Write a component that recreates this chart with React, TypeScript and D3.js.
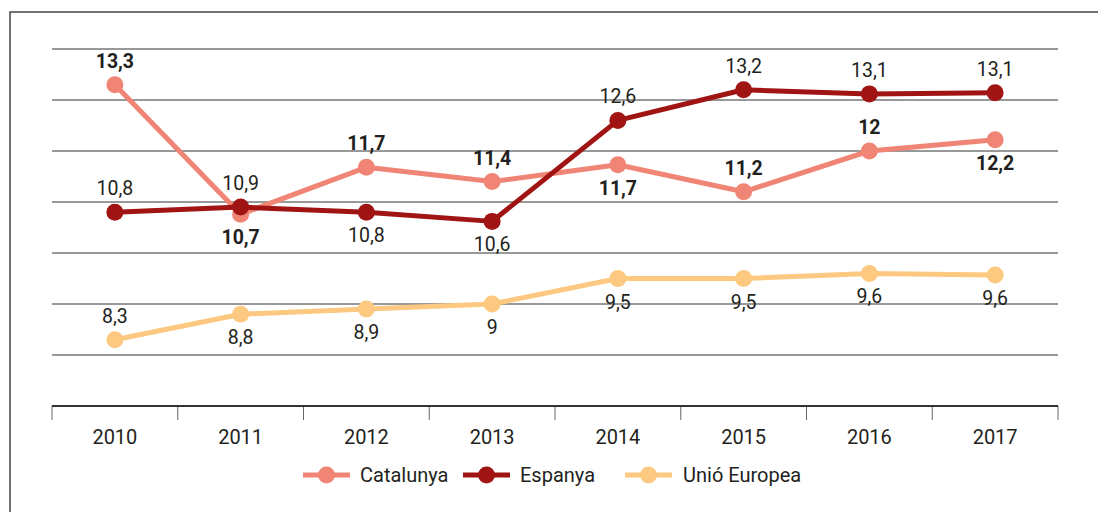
import React from "react";
import * as d3 from "d3";

const years = ["2010", "2011", "2012", "2013", "2014", "2015", "2016", "2017"];
const catalunya = [13.3, 10.76, 11.68, 11.4, 11.73, 11.2, 12.0, 12.22];
const catalunyaLabels = ["13,3", "10,7", "11,7", "11,4", "11,7", "11,2", "12", "12,2"];
const catalunyaPos = ["a", "b", "a", "a", "b", "a", "a", "b"];
const espanya = [10.8, 10.9, 10.8, 10.62, 12.6, 13.2, 13.12, 13.14];
const espanyaLabels = ["10,8", "10,9", "10,8", "10,6", "12,6", "13,2", "13,1", "13,1"];
const espanyaPos = ["a", "a", "b", "b", "a", "a", "a", "a"];
const ue = [8.3, 8.8, 8.9, 9.0, 9.5, 9.5, 9.6, 9.57];
const ueLabels = ["8,3", "8,8", "8,9", "9", "9,5", "9,5", "9,6", "9,6"];
const uePos = ["a", "b", "b", "b", "b", "b", "b", "b"];
const gridTicks = [8, 9, 10, 11, 12, 13, 14];

const FONT = "Roboto, 'DejaVu Sans', sans-serif";
const TEXT = "#231f20";

const series = [
  { name: "Unió Europea", values: ue, labels: ueLabels, pos: uePos, color: "#fdc880", bold: false },
  { name: "Catalunya", values: catalunya, labels: catalunyaLabels, pos: catalunyaPos, color: "#f08575", bold: true },
  { name: "Espanya", values: espanya, labels: espanyaLabels, pos: espanyaPos, color: "#a01414", bold: false },
];

const legendItems = [
  { name: "Catalunya", color: "#f08575", x: 303, tx: 360 },
  { name: "Espanya", color: "#a01414", x: 463, tx: 520 },
  { name: "Unió Europea", color: "#fdc880", x: 625, tx: 683 },
];

export default function App() {
  const W = 1098, H = 512;
  const x = d3.scaleBand<string>().domain(years).range([52, 1058]).padding(0);
  const y = d3.scaleLinear().domain([7, 14]).range([406, 49]);
  const cx = (i: number) => (x(years[i]) as number) + x.bandwidth() / 2;
  const line = d3.line<number>().x((_, i) => cx(i)).y((d) => y(d));
  const boundaries = [...years.map((yr) => x(yr) as number), 1058];

  return (
    <svg width={W} height={H} style={{ position: "absolute", left: 0, top: 0, background: "#fff" }}>
      <rect x={10} y={12} width={W + 20} height={H + 20} fill="none" stroke="#444" strokeWidth={1.5} />
      {gridTicks.map((t) => (
        <line key={t} x1={52} x2={1058} y1={y(t)} y2={y(t)} stroke="#333" strokeWidth={1} />
      ))}
      {boundaries.map((b, i) => (
        <line key={i} x1={b} x2={b} y1={406} y2={420} stroke="#666" strokeWidth={1} />
      ))}
      <line x1={52} x2={1058} y1={406} y2={406} stroke="#333" strokeWidth={2} />
      {years.map((yr, i) => (
        <text key={yr} x={cx(i)} y={444} textAnchor="middle" fontFamily={FONT} fontSize={20} fill={TEXT}>
          {yr}
        </text>
      ))}
      {series.map((s) => (
        <g key={s.name}>
          <path d={line(s.values) as string} fill="none" stroke={s.color} strokeWidth={5} strokeLinejoin="round" />
          {s.values.map((v, i) => (
            <circle key={i} cx={cx(i)} cy={y(v)} r={8.5} fill={s.color} />
          ))}
        </g>
      ))}
      {series.map((s) => (
        <g key={s.name + "-l"}>
          {s.values.map((v, i) => (
            <text
              key={i}
              x={cx(i)}
              y={y(v) + (s.pos[i] === "a" ? -24 : 23) + 7}
              textAnchor="middle"
              fontFamily={FONT}
              fontSize={19.5}
              fontWeight={s.bold ? 700 : 400}
              fill={TEXT}
            >
              {s.labels[i]}
            </text>
          ))}
        </g>
      ))}
      {legendItems.map((l) => (
        <g key={l.name}>
          <line x1={l.x} x2={l.x + 47} y1={475} y2={475} stroke={l.color} strokeWidth={5} />
          <circle cx={l.x + 23.5} cy={475} r={8.5} fill={l.color} />
          <text x={l.tx} y={482} fontFamily={FONT} fontSize={20} fill={TEXT}>
            {l.name}
          </text>
        </g>
      ))}
    </svg>
  );
}
